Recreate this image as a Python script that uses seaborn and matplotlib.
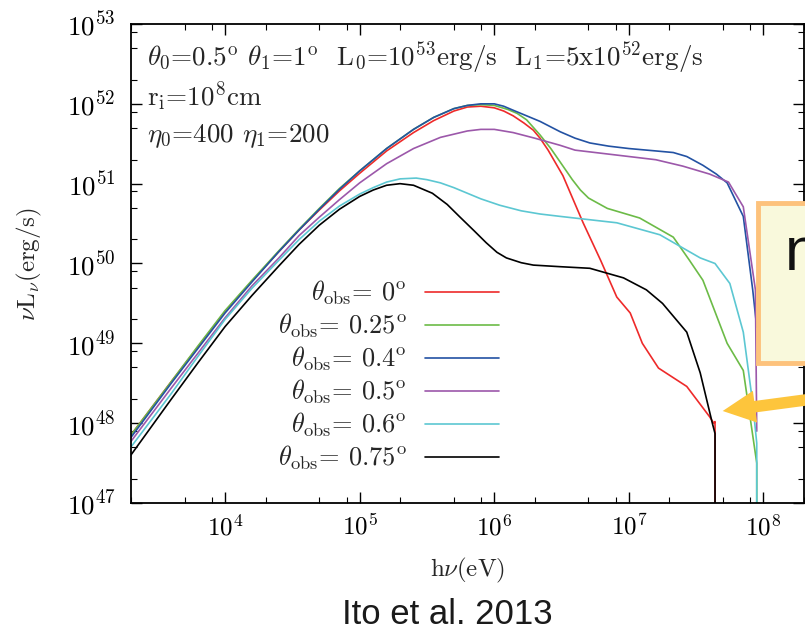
import numpy as np
import pandas as pd
import matplotlib
matplotlib.use("Agg")
import matplotlib.pyplot as plt
import seaborn as sns
from matplotlib.ticker import LogLocator
from matplotlib.patches import Rectangle, FancyArrow
from matplotlib.transforms import IdentityTransform

sns.set_style("ticks")
plt.rcParams["font.family"] = ["cmr10", "DejaVu Serif"]
plt.rcParams["mathtext.fontset"] = "cm"
plt.rcParams["axes.formatter.use_mathtext"] = True

labels = [r"$\theta_{\rm obs}$= 0$^{\rm o}$", r"$\theta_{\rm obs}$= 0.25$^{\rm o}$",
          r"$\theta_{\rm obs}$= 0.4$^{\rm o}$", r"$\theta_{\rm obs}$= 0.5$^{\rm o}$",
          r"$\theta_{\rm obs}$= 0.6$^{\rm o}$", r"$\theta_{\rm obs}$= 0.75$^{\rm o}$"]
colors = ["#ee2a2a", "#6cbb47", "#2352a3", "#9c58aa", "#5cc7d2", "#000000"]

# log10(h nu [eV]) and log10(nu L_nu [erg/s])
# (a value of 40 marks the drop to zero at the cut-off)
le_00 = [3.3, 3.6, 3.8, 4.0, 4.2, 4.4, 4.55, 4.7, 4.85, 5.0, 5.2, 5.4, 5.55, 5.7, 5.8,
         5.9, 6.0, 6.07, 6.14, 6.22, 6.29, 6.34, 6.4, 6.51, 6.66, 6.79, 6.91, 7.01,
         7.10, 7.22, 7.43, 7.60, 7.63, 7.64, 7.64]
ll_00 = [47.85, 48.52, 48.96, 49.40, 49.78, 50.15, 50.42, 50.67, 50.91, 51.13, 51.41,
         51.64, 51.79, 51.91, 51.96, 51.97, 51.95, 51.91, 51.85, 51.76, 51.67, 51.57,
         51.42, 51.10, 50.51, 50.04, 49.58, 49.38, 49.00, 48.69, 48.46, 48.08, 48.00,
         48.02, 40]

le_025 = [3.3, 3.6, 3.8, 4.0, 4.2, 4.4, 4.55, 4.7, 4.85, 5.0, 5.2, 5.4, 5.55, 5.7,
          5.8, 5.9, 6.0, 6.1, 6.17, 6.24, 6.34, 6.42, 6.49, 6.58, 6.64, 6.70, 6.84,
          7.08, 7.33, 7.45, 7.55, 7.73, 7.85, 7.95, 7.95]
ll_025 = [47.85, 48.52, 48.97, 49.41, 49.79, 50.16, 50.43, 50.69, 50.94, 51.16, 51.44,
          51.68, 51.83, 51.94, 51.98, 51.99, 51.98, 51.93, 51.88, 51.80, 51.61, 51.44,
          51.27, 51.05, 50.92, 50.82, 50.69, 50.57, 50.33, 50.04, 49.79, 49.00, 48.66,
          47.50, 40]

le_04 = [3.3, 3.6, 3.8, 4.0, 4.2, 4.4, 4.55, 4.7, 4.85, 5.0, 5.2, 5.4, 5.55, 5.7,
         5.8, 5.9, 6.0, 6.07, 6.14, 6.24, 6.34, 6.49, 6.6, 6.71, 6.85, 7.0, 7.2, 7.33,
         7.43, 7.55, 7.65, 7.73, 7.85, 7.92, 7.95]
ll_04 = [47.82, 48.50, 48.94, 49.38, 49.77, 50.15, 50.42, 50.68, 50.93, 51.16, 51.44,
         51.68, 51.83, 51.94, 51.98, 52.00, 52.00, 51.97, 51.92, 51.85, 51.78, 51.65,
         51.57, 51.51, 51.47, 51.44, 51.41, 51.39, 51.34, 51.23, 51.12, 51.01, 50.59,
         49.67, 49.2]

le_05 = [3.3, 3.6, 3.8, 4.0, 4.2, 4.4, 4.55, 4.7, 4.85, 5.0, 5.2, 5.4, 5.6, 5.8, 5.9,
         6.0, 6.14, 6.3, 6.49, 6.6, 6.8, 7.0, 7.2, 7.4, 7.6, 7.74, 7.85, 7.94, 7.95]
ll_05 = [47.77, 48.44, 48.88, 49.32, 49.72, 50.07, 50.35, 50.58, 50.80, 51.01, 51.25,
         51.44, 51.58, 51.66, 51.68, 51.68, 51.64, 51.57, 51.48, 51.42, 51.38, 51.34,
         51.30, 51.22, 51.12, 51.02, 50.71, 49.67, 47.9]

le_06 = [3.3, 3.6, 3.8, 4.0, 4.2, 4.4, 4.55, 4.7, 4.85, 5.0, 5.1, 5.2, 5.3, 5.42, 5.5,
         5.6, 5.7, 5.8, 5.9, 6.04, 6.2, 6.34, 6.49, 6.91, 7.23, 7.53, 7.64, 7.75, 7.85,
         7.92, 7.95, 7.95]
ll_06 = [47.70, 48.37, 48.84, 49.30, 49.69, 50.04, 50.30, 50.53, 50.72, 50.87, 50.95,
         51.02, 51.06, 51.07, 51.05, 51.01, 50.95, 50.88, 50.81, 50.73, 50.66, 50.62,
         50.59, 50.51, 50.36, 50.07, 50.00, 49.75, 49.14, 48.25, 47.75, 40]

le_075 = [3.3, 3.6, 3.8, 4.0, 4.2, 4.4, 4.55, 4.7, 4.85, 5.0, 5.1, 5.2, 5.3, 5.4, 5.54,
          5.65, 5.74, 5.85, 5.94, 6.02, 6.09, 6.2, 6.29, 6.49, 6.71, 6.96, 7.13, 7.25,
          7.35, 7.43, 7.53, 7.62, 7.64, 7.64]
ll_075 = [47.60, 48.30, 48.76, 49.21, 49.60, 49.97, 50.24, 50.48, 50.68, 50.84, 50.92,
          50.98, 51.00, 50.98, 50.88, 50.74, 50.59, 50.41, 50.26, 50.14, 50.07, 50.01,
          49.98, 49.96, 49.94, 49.82, 49.67, 49.50, 49.30, 49.14, 48.63, 48.00, 47.87,
          40]

curves = [(le_00, ll_00), (le_025, ll_025), (le_04, ll_04),
          (le_05, ll_05), (le_06, ll_06), (le_075, ll_075)]
frames = []
for lab, (le, ll) in zip(labels, curves):
    frames.append(pd.DataFrame({"E": 10.0 ** np.array(le), "L": 10.0 ** np.array(ll),
                                "label": lab}))
df = pd.concat(frames, ignore_index=True)

fig = plt.figure(figsize=(8.05, 6.32), dpi=100)
ax = fig.add_axes([131 / 805, 1 - 503 / 632, 673 / 805, 479 / 632])
ax.set(xscale="log", yscale="log")

sns.lineplot(data=df, x="E", y="L", hue="label", hue_order=labels,
             palette=dict(zip(labels, colors)), sort=False, estimator=None,
             lw=1.2, ax=ax)

ax.set_xlim(2e3, 2e8)
ax.set_ylim(1e47, 1e53)
ax.xaxis.set_major_locator(LogLocator(base=10, numticks=12))
ax.yaxis.set_major_locator(LogLocator(base=10, numticks=12))
ax.xaxis.set_minor_locator(LogLocator(base=10, subs=(2, 5, 8), numticks=12))
ax.yaxis.set_minor_locator(LogLocator(base=10, subs=(2, 5, 8), numticks=12))
ax.yaxis.set_minor_formatter(plt.NullFormatter())
ax.xaxis.set_minor_formatter(plt.NullFormatter())
ax.tick_params(which="both", direction="in", top=True, right=True, colors="black",
               labelsize=18)
ax.tick_params(which="major", length=8, width=1)
ax.tick_params(which="minor", length=4, width=0.8)
ax.tick_params(axis="x", pad=8)
ax.tick_params(axis="y", pad=11, labelsize=19.5)
for s in ax.spines.values():
    s.set_linewidth(1.3)
    s.set_color("black")

ax.set_xlabel(r"h$\nu$(eV)", fontsize=18)
ax.set_ylabel(r"$\nu$L$_\nu$(erg/s)", fontsize=18)
ax.xaxis.set_label_coords(0.5, -0.11)
ax.yaxis.set_label_coords(-0.13, 0.5)

hd, lb = ax.get_legend_handles_labels()
ax.legend(hd, lb, loc="upper right", bbox_to_anchor=(499 / 805, 1 - 279 / 632),
          bbox_transform=fig.transFigure, frameon=False, markerfirst=False,
          fontsize=19, handlelength=2.8, handletextpad=0.7, labelspacing=0.17,
          borderpad=0, borderaxespad=0)

ax.text(0.024, 0.914, r"$\theta_0$=0.5$^{\rm o}$ $\theta_1$=1$^{\rm o}$  "
        r"L$_0$=10$^{53}$erg/s  L$_1$=5x10$^{52}$erg/s",
        transform=ax.transAxes, fontsize=19.5, va="baseline")
ax.text(0.024, 0.829, r"r$_{\rm i}$=10$^8$cm", transform=ax.transAxes, fontsize=19.5,
        va="baseline")
ax.text(0.024, 0.754, r"$\eta_0$=400 $\eta_1$=200", transform=ax.transAxes,
        fontsize=19.5, va="baseline")

# slide overlay: note box and arrow
px = IdentityTransform()
fig.add_artist(Rectangle((758, 632 - 363), 90, 160, transform=px, facecolor="#f9f9dc",
                         edgecolor="#fdc27c", lw=3.5, zorder=10))
fig.text(785 / 805, 1 - 270 / 632, "n", fontsize=44, family="Liberation Sans",
         color="#111111", va="baseline", zorder=11)
fig.add_artist(FancyArrow(815, 233.3, -92.3, -12.3, width=11.5, head_width=32,
                          head_length=32.6, length_includes_head=True, transform=px,
                          color="#fdc53c", lw=0, zorder=12))
fig.text(447.5 / 805, 1 - 624.5 / 632, "Ito et al. 2013", fontsize=25,
         family="Liberation Sans", color="#1a1a1a", ha="center", va="baseline")

fig.savefig("out.png", dpi=100)
